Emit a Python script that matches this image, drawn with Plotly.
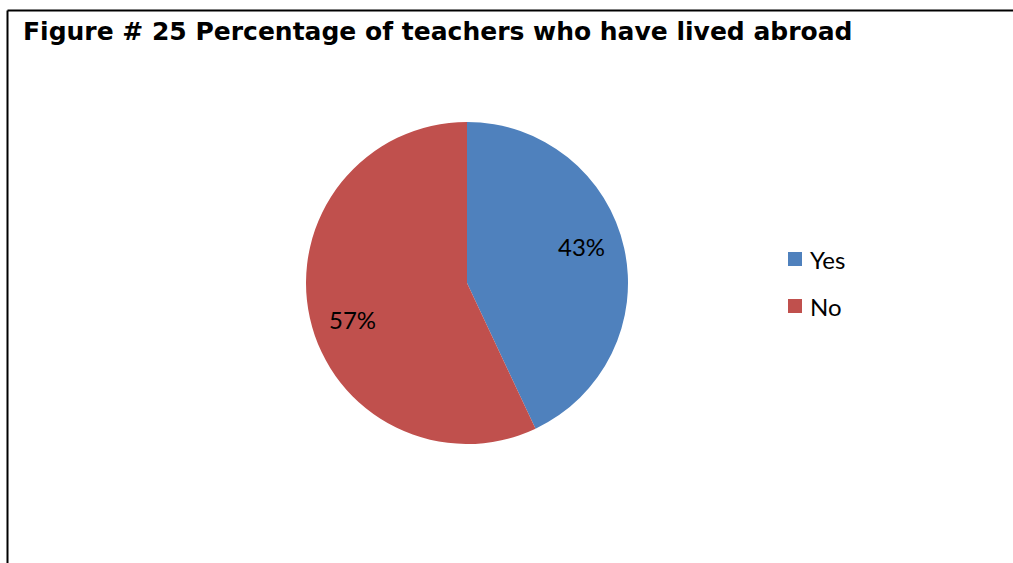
import math
import plotly.graph_objects as go

# Survey answers and their shares (%)
labels = ["Yes", "No"]
values = [43, 57]
colors = ["#4F81BD", "#C0504D"]
title_text = "Figure # 25 Percentage of teachers who have lived abroad"

W, H = 1013, 563

# Pie placement (pixels)
cx, cy, R = 467, 283, 161

fig = go.Figure(
    go.Pie(
        labels=labels,
        values=values,
        sort=False,
        direction="clockwise",
        rotation=0,
        marker=dict(colors=colors, line=dict(width=0)),
        textinfo="none",
        hoverinfo="label+percent",
        showlegend=False,
        domain=dict(x=[(cx - R) / W, (cx + R) / W], y=[1 - (cy + R) / H, 1 - (cy - R) / H]),
    )
)

# Frame lines (top and left)
shapes = [
    dict(type="line", xref="paper", yref="paper", x0=7.5 / W, x1=1.0, y0=1 - 10.5 / H, y1=1 - 10.5 / H,
         line=dict(color="#000000", width=2)),
    dict(type="line", xref="paper", yref="paper", x0=7.5 / W, x1=7.5 / W, y0=0, y1=1 - 10.5 / H,
         line=dict(color="#000000", width=2)),
]

annotations = [
    dict(text="<b>" + title_text + "</b>", xref="paper", yref="paper", x=21 / W, y=1 - 31 / H,
         xanchor="left", yanchor="middle", showarrow=False,
         font=dict(family="DejaVu Sans", size=25, color="#000000")),
]

# Percentage labels inside each slice, placed along the slice's mid-angle
total = sum(values)
start = 0.0
for v in values:
    span = 360.0 * v / total
    mid = math.radians(start + span / 2 - 5)
    r = 0.745 * R
    px = cx + r * math.sin(mid)
    py = cy - r * math.cos(mid)
    annotations.append(dict(text=f"{round(100 * v / total)}%", xref="paper", yref="paper",
                            x=px / W, y=1 - py / H, xanchor="center", yanchor="middle",
                            showarrow=False,
                            font=dict(family="Lato", size=24, color="#000000")))
    start += span

# Legend drawn as swatches and labels
legend_y = [259, 306]
for lab, col, ly in zip(labels, colors, legend_y):
    shapes.append(dict(type="rect", xref="paper", yref="paper",
                       x0=788 / W, x1=802 / W, y0=1 - (ly + 7) / H, y1=1 - (ly - 7) / H,
                       fillcolor=col, line=dict(width=0)))
    annotations.append(dict(text=lab, xref="paper", yref="paper", x=808 / W, y=1 - ly / H,
                            xanchor="left", yanchor="middle", showarrow=False,
                            font=dict(family="Lato", size=24, color="#000000")))

fig.update_layout(
    width=W,
    height=H,
    margin=dict(l=0, r=0, t=0, b=0),
    paper_bgcolor="#FFFFFF",
    plot_bgcolor="#FFFFFF",
    shapes=shapes,
    annotations=annotations,
)

fig.write_html("out.html")
